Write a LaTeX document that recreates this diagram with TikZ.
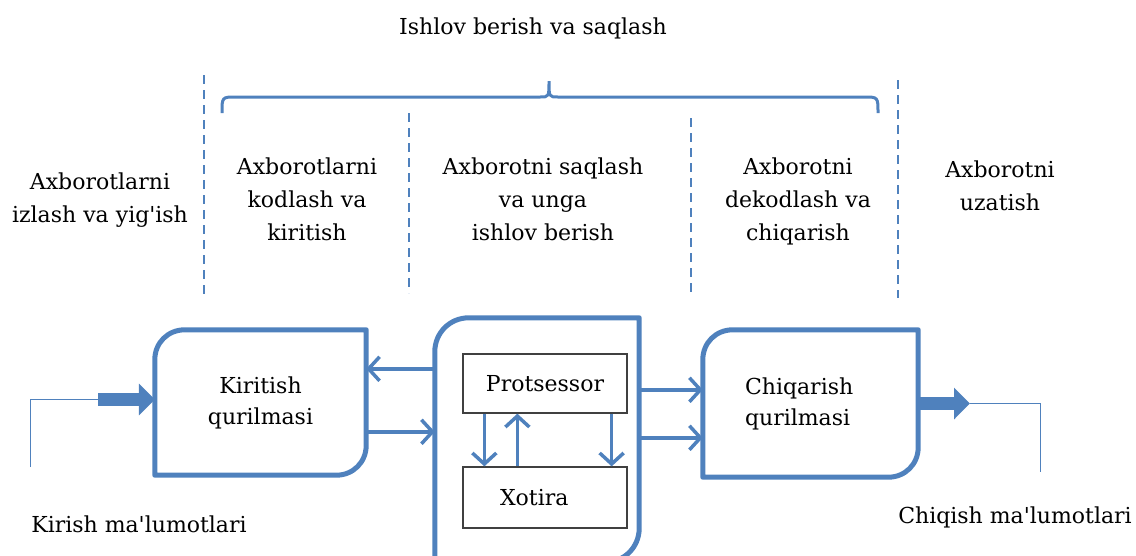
\documentclass[tikz,border=0pt]{standalone}
\usepackage{fontspec}
\setmainfont{DejaVu Serif}
\usetikzlibrary{arrows.meta}
\definecolor{kok}{RGB}{79,129,189}
% box with two rounded corners: #1 node, #2 radius, #3 control distance
\newcommand{\yarimquti}[3]{%
	\draw[quti] (#1.south west) -- ([yshift=-#2]#1.north west) .. controls ([yshift=-#3]#1.north west) and ([xshift=#3]#1.north west) .. ([xshift=#2]#1.north west) -- (#1.north east) -- ([yshift=#2]#1.south east) .. controls ([yshift=#3]#1.south east) and ([xshift=-#3]#1.south east) .. ([xshift=-#2]#1.south east) -- cycle;}
\begin{document}
\begin{tikzpicture}[x = 1pt, y = -1pt,
	quti/.style = {draw = kok, line width = 5pt, line join = round},
	blok/.style = {inner sep = 0pt, font = \fontsize{22}{31}\selectfont, align = center},
	kichik/.style = {draw = black!75, line width = 1.3pt, minimum width = 164pt, inner sep = 0pt, font = \fontsize{22}{31}\selectfont},
	matn/.style = {font = \fontsize{22}{33}\selectfont, align = center},
	strelka/.style = {kok, line width = 3.5pt, -{Straight Barb[length = 11pt, width = 24pt]}},
	qalin/.style = {kok, line width = 13pt, -{Triangle[length = 16pt, width = 31pt]}},
	ingich/.style = {kok, line width = 1pt},
	chiziq/.style = {kok, line width = 2.4pt, dash pattern = on 9pt off 6pt},
	qavs/.style = {kok, line width = 3pt}]
	\useasboundingbox (0,0) rectangle (1136,555);
	\clip (0,0) rectangle (1136,555);
	% top texts
	\node[matn] (ishlov) at (533,28) {Ishlov berish va saqlash};
	\node[matn] (izlash) at (100,200) {Axborotlarni\\izlash va yig\textquotesingle ish};
	\node[matn] (kodlash) at (307,199) {Axborotlarni\\kodlash va\\kiritish};
	\node[matn] (saqlash) at (543,199) {Axborotni saqlash\\va unga\\ishlov berish};
	\node[matn] (dekodlash) at (798,201) {Axborotni\\dekodlash va\\chiqarish};
	\node[matn] (uzatish) at (1000,186) {Axborotni\\uzatish};
	\draw[chiziq] (204,75) -- (204,296); %1
	\draw[chiziq] (409,113) -- (409,293); %2
	\draw[chiziq] (691,118) -- (691,297); %3
	\draw[chiziq] (898,80) -- (898,298); %4
	\draw[qavs] (222,113) .. controls (222,97) .. (236,97) -- (540,97) .. controls (549,97) .. (549,81) .. controls (549,97) .. (558,97) -- (864,97) .. controls (878,97) .. (878,113); %brace
	% devices
	\node[blok, minimum width = 211pt, minimum height = 145pt] (kir) at (260.5,402.5) {Kiritish\\qurilmasi};
	\node[blok, minimum width = 204pt, minimum height = 244pt] (markaz) at (537,440) {};
	\node[blok, minimum height = 147pt, text width = 131pt, inner xsep = 42pt, align = left] (chiq) at (810.5,403.5) {Chiqarish\\qurilmasi};
	\yarimquti{kir}{30pt}{13pt}
	\yarimquti{markaz}{34pt}{15pt}
	\yarimquti{chiq}{30pt}{13pt}
	\node[kichik, minimum height = 59pt] (prots) at (545,383.5) {Protsessor};
	\node[kichik, minimum height = 61pt, text width = 90pt, inner xsep = 37pt, align = left] (xotira) at (545,497.5) {Xotira};
	\draw[strelka] ([xshift=22pt]prots.south west) -- ([xshift=22pt]xotira.north west);
	\draw[strelka] ([xshift=55pt]xotira.north west) -- ([xshift=55pt]prots.south west);
	\draw[strelka] ([xshift=-16pt]prots.south east) -- ([xshift=-16pt]xotira.north east);
	% connectors
	\draw[strelka] ([yshift=-39pt]markaz.west |- kir.north east) -- ([yshift=-39pt]kir.north east);
	\draw[strelka] ([yshift=-102pt]kir.north east) -- ([yshift=-102pt]markaz.west |- kir.north east);
	\draw[strelka] ([yshift=-60pt]markaz.east |- chiq.north west) -- ([yshift=-60pt]chiq.north west);
	\draw[strelka] ([yshift=-108pt]markaz.east |- chiq.north west) -- ([yshift=-108pt]chiq.north west);
	% input and output
	\coordinate (kir0) at (30,467);
	\coordinate (kir1) at (98,399.5);
	\draw[ingich] (kir0) |- (kir1);
	\draw[qalin] (kir1) -- (kir1 -| kir.west);
	\coordinate (chiq1) at (970,403.5);
	\coordinate (chiq0) at (1040,472);
	\draw[qalin] (chiq.east) -- (chiq1);
	\draw[ingich] (chiq1) -| (chiq0);
	\node[matn] (kirish) at (139,524) {Kirish ma\textquotesingle lumotlari};
	\node[matn] (chiqish) at (1015,517) {Chiqish ma\textquotesingle lumotlari};
\end{tikzpicture}
\end{document}
